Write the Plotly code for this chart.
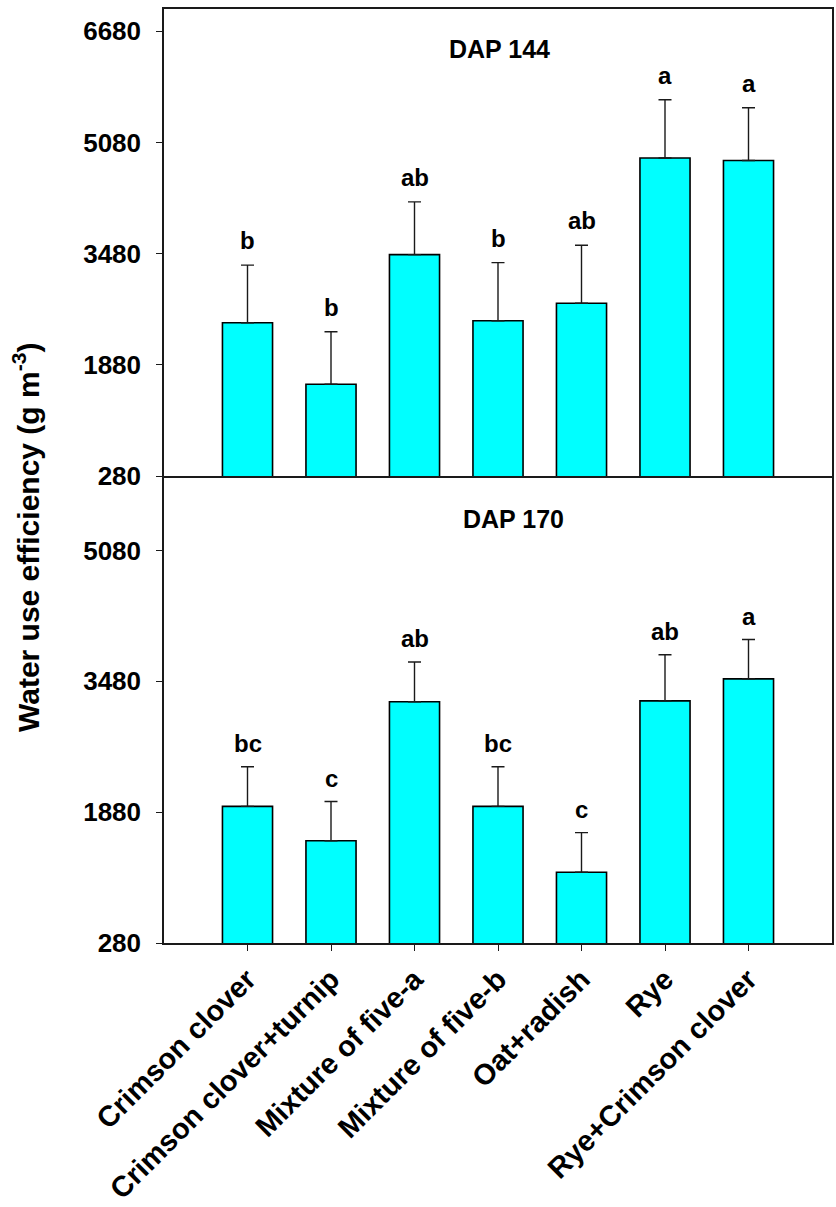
import plotly.graph_objects as go

categories = ["Crimson clover", "Crimson clover+turnip", "Mixture of five-a",
              "Mixture of five-b", "Oat+radish", "Rye", "Rye+Crimson clover"]

wue_dap144 = [2485, 1600, 3465, 2515, 2765, 4855, 4820]
se_dap144 = [830, 755, 760, 835, 835, 840, 760]
letters_dap144 = ["b", "b", "ab", "b", "ab", "a", "a"]

wue_dap170 = [1950, 1530, 3230, 1950, 1145, 3240, 3510]
se_dap170 = [485, 480, 485, 485, 485, 565, 480]
letters_dap170 = ["bc", "c", "ab", "bc", "c", "ab", "a"]

yticks_dap144 = [280, 1880, 3480, 5080, 6680]
yticks_dap170 = [280, 1880, 3480, 5080]

FONT = "Liberation Sans, Arial, sans-serif"
FILL = "#00FFFF"
LINE = "#1a1a1a"

fig = go.Figure()

def add_panel(vals, errs, xa, ya):
    fig.add_trace(go.Bar(
        x=categories, y=vals, xaxis=xa, yaxis=ya, width=0.6,
        marker=dict(color=FILL, line=dict(color="#000000", width=1.6)),
        error_y=dict(type="data", array=errs, arrayminus=[0] * len(errs),
                     symmetric=False, color=LINE, thickness=1.4, width=6.5),
        showlegend=False, hoverinfo="skip"))

add_panel(wue_dap144, se_dap144, "x2", "y2")
add_panel(wue_dap170, se_dap170, "x", "y")

annotations = []
for cat, v, e, t in zip(categories, wue_dap144, se_dap144, letters_dap144):
    annotations.append(dict(x=cat, y=v + e, xref="x2", yref="y2", text=t,
                            showarrow=False, yanchor="bottom", yshift=9,
                            font=dict(family=FONT, size=24, color="#000", weight="bold")))
for cat, v, e, t in zip(categories, wue_dap170, se_dap170, letters_dap170):
    annotations.append(dict(x=cat, y=v + e, xref="x", yref="y", text=t,
                            showarrow=False, yanchor="bottom", yshift=8,
                            font=dict(family=FONT, size=24, color="#000", weight="bold")))

annotations.append(dict(x=3.02, y=6421, xref="x2", yref="y2", text="DAP 144",
                        showarrow=False, xanchor="center", yanchor="middle",
                        font=dict(family=FONT, size=25, color="#000", weight="bold")))
annotations.append(dict(x=3.18, y=5468, xref="x", yref="y", text="DAP 170",
                        showarrow=False, xanchor="center", yanchor="middle",
                        font=dict(family=FONT, size=25, color="#000", weight="bold")))
annotations.append(dict(x=-0.2066, y=0.4347, xref="paper", yref="paper",
                        text="Water use efficiency (g m<sup>-3</sup>)", textangle=-90,
                        showarrow=False, xanchor="center", yanchor="middle",
                        font=dict(family=FONT, size=30, color="#000", weight="bold")))

axis_common = dict(showline=True, linecolor=LINE, linewidth=1.5,
                   showgrid=False, zeroline=False, automargin=False)

fig.update_layout(
    width=836, height=1207,
    margin=dict(l=164, r=4, t=9, b=264, autoexpand=False),
    paper_bgcolor="white", plot_bgcolor="white",
    font=dict(family=FONT, color="#000"),
    annotations=annotations,
    bargap=0.4,
    xaxis=dict(domain=[0, 1], anchor="y", type="category",
               categoryorder="array", categoryarray=categories,
               range=[-1, 7], ticks="outside", ticklen=6, tickwidth=1.4,
               tickcolor=LINE, tickangle=-45, mirror=False,
               tickfont=dict(family=FONT, size=29, color="#000", weight="bold"),
               **axis_common),
    yaxis=dict(domain=[0, 0.5], anchor="x", range=[280, 5990],
               tickmode="array", tickvals=yticks_dap170,
               ticktext=[str(v) for v in yticks_dap170],
               ticks="outside", ticklen=6, tickwidth=1.4, tickcolor=LINE,
               ticklabelstandoff=10, mirror=True,
               tickfont=dict(family=FONT, size=26, color="#000", weight="bold"),
               **axis_common),
    xaxis2=dict(domain=[0, 1], anchor="y2", type="category",
                categoryorder="array", categoryarray=categories,
                range=[-1, 7], showticklabels=False, ticks="", mirror=True,
                **axis_common),
    yaxis2=dict(domain=[0.5, 1], anchor="x2", range=[280, 7000],
                tickmode="array", tickvals=yticks_dap144,
                ticktext=[str(v) for v in yticks_dap144],
                ticks="outside", ticklen=6, tickwidth=1.4, tickcolor=LINE,
                ticklabelstandoff=10, mirror=True,
                tickfont=dict(family=FONT, size=26, color="#000", weight="bold"),
                **axis_common),
)

fig.write_html("out.html", config={"displayModeBar": False},
               post_script="document.body.style.margin='0';document.body.style.overflow='hidden';")
